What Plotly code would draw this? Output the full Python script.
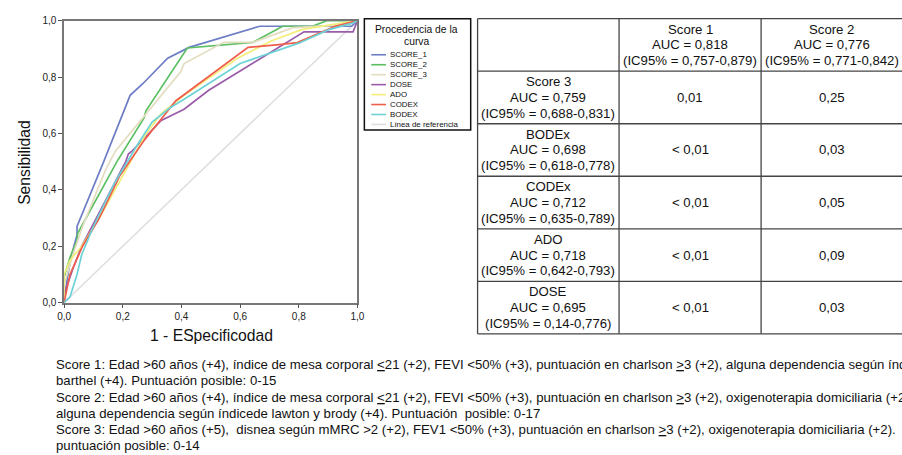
import plotly.graph_objects as go

W, H = 902, 455
FONT = "Liberation Sans, Arial, Helvetica, sans-serif"

# ---------------- data ----------------
curve_names = ["SCORE_1", "SCORE_2", "SCORE_3", "DOSE", "ADO", "CODEX", "BODEX"]
curve_colors = ["#6d7ec6", "#5cc063", "#e3ddc0", "#9a5ca8", "#f3ee7a", "#ef5d4c", "#6cd2d6"]

score1_x = [0, 0.01, 0.023, 0.044, 0.044, 0.135, 0.225, 0.27, 0.353, 0.426, 0.667, 0.98, 1]
score1_y = [0, 0.08, 0.16, 0.24, 0.27, 0.50, 0.735, 0.778, 0.867, 0.905, 0.98, 0.98, 1]

score2_x = [0, 0, 0.02, 0.044, 0.046, 0.063, 0.18, 0.272, 0.279, 0.42, 0.644, 0.745, 0.846, 0.896, 1]
score2_y = [0, 0.09, 0.16, 0.22, 0.245, 0.277, 0.50, 0.654, 0.68, 0.903, 0.923, 0.98, 0.98, 1.0, 1]

score3_x = [0, 0, 0.029, 0.063, 0.141, 0.174, 0.398, 0.409, 0.544, 0.644, 0.78, 0.97, 1]
score3_y = [0, 0.063, 0.167, 0.27, 0.47, 0.536, 0.819, 0.848, 0.923, 0.923, 0.975, 0.986, 1]

dose_x = [0, 0, 0.03, 0.06, 0.11, 0.16, 0.21, 0.219, 0.23, 0.331, 0.409, 0.493, 0.818, 0.985, 1]
dose_y = [0, 0.03, 0.12, 0.20, 0.30, 0.40, 0.50, 0.527, 0.536, 0.646, 0.686, 0.753, 0.96, 0.96, 1]

ado_x = [0, 0, 0.02, 0.06, 0.12, 0.20, 0.28, 0.331, 0.409, 0.588, 0.706, 0.812, 0.95, 1]
ado_y = [0, 0.10, 0.15, 0.20, 0.30, 0.45, 0.60, 0.67, 0.735, 0.865, 0.928, 0.969, 0.99, 1]

codex_x = [0, 0.02, 0.063, 0.12, 0.19, 0.27, 0.381, 0.627, 0.733, 0.795, 0.924, 1]
codex_y = [0, 0.10, 0.20, 0.30, 0.45, 0.571, 0.716, 0.905, 0.915, 0.922, 0.98, 1]

bodex_x = [0, 0.02, 0.044, 0.06, 0.10, 0.17, 0.25, 0.30, 0.36, 0.409, 0.60, 0.683, 0.80, 0.90, 0.98, 1]
bodex_y = [0, 0.02, 0.10, 0.17, 0.27, 0.42, 0.56, 0.64, 0.69, 0.721, 0.848, 0.877, 0.92, 0.967, 0.99, 1]

ref_x = [0, 1]
ref_y = [0, 1]
ref_name = "Línea de referencia"
ref_color = "#dedede"

curves_x = [score1_x, score2_x, score3_x, dose_x, ado_x, codex_x, bodex_x]
curves_y = [score1_y, score2_y, score3_y, dose_y, ado_y, codex_y, bodex_y]

tick_vals = [0, 0.2, 0.4, 0.6, 0.8, 1.0]
x_title = "1 - ESpecificodad"
y_title = "Sensibilidad"
legend_title = ["Procedencia de la", "curva"]

table_header = ["", "Score 1<br>AUC = 0,818<br>(IC95% = 0,757-0,879)",
                "Score 2<br>AUC = 0,776<br>(IC95% = 0,771-0,842)"]
table_rows = ["Score 3<br>AUC = 0,759<br>(IC95% = 0,688-0,831)",
              "BODEx<br>AUC = 0,698<br>(IC95% = 0,618-0,778)",
              "CODEx<br>AUC = 0,712<br>(IC95% = 0,635-0,789)",
              "ADO<br>AUC = 0,718<br>(IC95% = 0,642-0,793)",
              "DOSE<br>AUC = 0,695<br>(IC95% = 0,14-0,776)"]
p_score1 = ["0,01", "&lt; 0,01", "&lt; 0,01", "&lt; 0,01", "&lt; 0,01"]
p_score2 = ["0,25", "0,03", "0,05", "0,09", "0,03"]

footnotes = [
    "Score 1: Edad &gt;60 años (+4), índice de mesa corporal <u>&lt;</u>21 (+2), FEVI &lt;50% (+3), puntuación en charlson <u>&gt;</u>3 (+2), alguna dependencia según índice de",
    "barthel (+4). Puntuación posible: 0-15",
    "Score 2: Edad &gt;60 años (+4), índice de mesa corporal <u>&lt;</u>21 (+2), FEVI &lt;50% (+3), puntuación en charlson <u>&gt;</u>3 (+2), oxigenoterapia domiciliaria (+2),",
    "alguna dependencia según índicede lawton y brody (+4). Puntuación  posible: 0-17",
    "Score 3: Edad &gt;60 años (+5),  disnea según mMRC &gt;2 (+2), FEV1 &lt;50% (+3), puntuación en charlson <u>&gt;</u>3 (+2), oxigenoterapia domiciliaria (+2).",
    "puntuación posible: 0-14",
]

# ---------------- helpers (pixel -> paper) ----------------
def px(x):
    return x / W

def py(y):
    return 1 - y / H

fig = go.Figure()

fig.add_trace(go.Scatter(x=ref_x, y=ref_y, mode="lines", name=ref_name,
                         line=dict(color=ref_color, width=1.5), hoverinfo="skip"))
for name, color, xs, ys in zip(curve_names, curve_colors, curves_x, curves_y):
    fig.add_trace(go.Scatter(x=xs, y=ys, mode="lines", name=name,
                             line=dict(color=color, width=1.7)))

shapes = []
annotations = []

def label(x, y, text, size, xanchor="center", angle=0):
    annotations.append(dict(x=px(x), y=py(y), xref="paper", yref="paper", text=text,
                            showarrow=False, xanchor=xanchor, yanchor="middle",
                            textangle=angle, align="left" if xanchor == "left" else "center",
                            font=dict(size=size, color="#111", family=FONT)))

# axis titles
label(208, 339, x_title, 15.7)
label(17, 161, y_title, 15.7, angle=-90)

# legend box (manual)
shapes.append(dict(type="rect", xref="paper", yref="paper", x0=px(363), x1=px(471),
                   y0=py(128), y1=py(14), line=dict(color="#111", width=1.5)))
label(416, 25, legend_title[0], 10.3)
label(416, 37.5, legend_title[1], 10.3)
leg_names = curve_names + [ref_name]
leg_colors = curve_colors + [ref_color]
for i, (n, c) in enumerate(zip(leg_names, leg_colors)):
    yy = 51 + i * 10.2
    shapes.append(dict(type="line", xref="paper", yref="paper", x0=px(370), x1=px(385),
                       y0=py(yy), y1=py(yy), line=dict(color=c, width=1.6)))
    label(387, yy, n, 7.9, xanchor="left")

# table (manual grid)
col_edges = [478, 621.7, 766, 910]
row_edges = [14 + i * (337 - 14) / 6 for i in range(7)]
tcol = "#444"
for xe in col_edges:
    shapes.append(dict(type="line", xref="paper", yref="paper", x0=px(xe), x1=px(xe),
                       y0=py(row_edges[0]), y1=py(row_edges[-1]), line=dict(color=tcol, width=1.3)))
for ye in row_edges:
    shapes.append(dict(type="line", xref="paper", yref="paper", x0=px(col_edges[0]), x1=px(col_edges[-1]),
                       y0=py(ye), y1=py(ye), line=dict(color=tcol, width=1.3)))

LINE_GAP = 16.3

def cell(ci, ri, text):
    xc = (col_edges[ci] + col_edges[ci + 1]) / 2
    yc = (row_edges[ri] + row_edges[ri + 1]) / 2
    parts = text.split("<br>")
    n = len(parts)
    for k, part in enumerate(parts):
        label(xc, yc + (k - (n - 1) / 2) * LINE_GAP, part, 13.2)

for ci, t in enumerate(table_header):
    if t:
        cell(ci, 0, t)
for ri, (lab, a, b) in enumerate(zip(table_rows, p_score1, p_score2)):
    cell(0, ri + 1, lab)
    cell(1, ri + 1, a)
    cell(2, ri + 1, b)

# footnotes
foot_y = [368, 385, 402, 418.5, 435.5, 451.5]
for t, yy in zip(footnotes, foot_y):
    label(48, yy, t, 13.2, xanchor="left")

axis_common = dict(range=[0, 1], tickvals=tick_vals, tickformat=".1f",
                   showgrid=False, zeroline=False, showline=True, mirror=True,
                   linecolor="#777", linewidth=1.5, ticks="outside", ticklen=4,
                   tickcolor="#555", tickwidth=1.2,
                   tickfont=dict(size=10, color="#222", family=FONT))

# size comes from the plot div (902x455), pinned to the page's top-left corner
fig.update_layout(
    autosize=True,
    margin=dict(l=0, r=0, t=0, b=0),
    paper_bgcolor="white", plot_bgcolor="white",
    separators=", ",
    showlegend=False,
    xaxis=dict(domain=[px(58), px(356)], **axis_common),
    yaxis=dict(domain=[py(305), py(16)], **axis_common),
    shapes=shapes,
    annotations=annotations,
    font=dict(family=FONT),
)

fig.write_html("out.html", config={"displayModeBar": False},
               default_width=f"{W}px;position:absolute;left:0;top:0",
               default_height=f"{H}px")
